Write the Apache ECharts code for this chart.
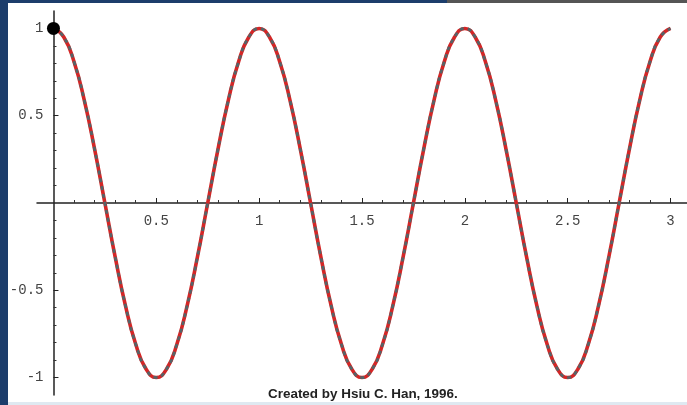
<!DOCTYPE html>
<html>
<head>
<meta charset="utf-8">
<script src="https://cdn.jsdelivr.net/npm/echarts@6/dist/echarts.min.js"></script>
<style>
html,body{margin:0;padding:0;background:#fff;}
#c{width:687px;height:405px;}
</style>
</head>
<body>
<div id="c"></div>
<script>
// Sample positions along t and the read-off curve values
var tValues = [
  0.00,0.05,0.10,0.15,0.20,0.25,0.30,0.35,0.40,0.45,
  0.50,0.55,0.60,0.65,0.70,0.75,0.80,0.85,0.90,0.95,
  1.00,1.05,1.10,1.15,1.20,1.25,1.30,1.35,1.40,1.45,
  1.50,1.55,1.60,1.65,1.70,1.75,1.80,1.85,1.90,1.95,
  2.00,2.05,2.10,2.15,2.20,2.25,2.30,2.35,2.40,2.45,
  2.50,2.55,2.60,2.65,2.70,2.75,2.80,2.85,2.90,2.95,
  3.00
];
var yValues = [
  1,0.951,0.809,0.588,0.309,0,-0.309,-0.588,-0.809,-0.951,
  -1,-0.951,-0.809,-0.588,-0.309,0,0.309,0.588,0.809,0.951,
  1,0.951,0.809,0.588,0.309,0,-0.309,-0.588,-0.809,-0.951,
  -1,-0.951,-0.809,-0.588,-0.309,0,0.309,0.588,0.809,0.951,
  1,0.951,0.809,0.588,0.309,0,-0.309,-0.588,-0.809,-0.951,
  -1,-0.951,-0.809,-0.588,-0.309,0,0.309,0.588,0.809,0.951,
  1
];
var startPoint = [0, 1];
var xTickLabels = [0.5, 1, 1.5, 2, 2.5, 3];
var yTickLabels = [-1, -0.5, 0.5, 1];
var xMinorTicks = [0.1,0.2,0.3,0.4,0.6,0.7,0.8,0.9,1.1,1.2,1.3,1.4,1.6,1.7,1.8,1.9,2.1,2.2,2.3,2.4,2.6,2.7,2.8,2.9];
var yMinorTicks = [-0.9,-0.8,-0.7,-0.6,-0.4,-0.3,-0.2,-0.1,0.1,0.2,0.3,0.4,0.6,0.7,0.8,0.9];
var creditText = 'Created by Hsiu C. Han, 1996.';

var curve = tValues.map(function(t, i){ return [t, yValues[i]]; });
var chart = echarts.init(document.getElementById('c'), null, {renderer:'canvas'});

var GL = 37, GT = 11, GW = 650, GH = 384;
var XMIN = -0.08, XMAX = 3.08, YMIN = -1.1, YMAX = 1.1;
// offsets that bring the axes onto the zero lines
var xOff = -(GH * (0 - YMIN) / (YMAX - YMIN));
var yOff = -(GW * (0 - XMIN) / (XMAX - XMIN));

var labelStyle = {fontFamily:'Liberation Mono', fontSize:14, color:'#444'};
var lineCol = '#222';

chart.setOption({
  animation:false,
  backgroundColor:'#fff',
  grid:{left:GL, top:GT, width:GW, height:GH, containLabel:false, outerBoundsMode:'none'},
  xAxis:[
    {type:'value', min:XMIN, max:XMAX, position:'bottom', offset:xOff,
     axisLine:{show:true, onZero:false, lineStyle:{color:lineCol, width:1.5}},
     axisTick:{show:true, inside:true, length:5, customValues:xTickLabels, lineStyle:{color:lineCol}},
     axisLabel:Object.assign({show:true, margin:11, customValues:xTickLabels,
       formatter:function(v){return String(v);}}, labelStyle),
     splitLine:{show:false}},
    {type:'value', min:XMIN, max:XMAX, position:'bottom', offset:xOff,
     axisLine:{show:false, onZero:false},
     axisTick:{show:true, inside:true, length:3, customValues:xMinorTicks, lineStyle:{color:'#333'}},
     axisLabel:{show:false},
     splitLine:{show:false}}
  ],
  yAxis:[
    {type:'value', min:YMIN, max:YMAX, position:'left', offset:yOff,
     axisLine:{show:true, onZero:false, lineStyle:{color:lineCol, width:1.5}},
     axisTick:{show:true, inside:true, length:5, customValues:yTickLabels, lineStyle:{color:lineCol}},
     axisLabel:Object.assign({show:true, margin:10, customValues:yTickLabels,
       formatter:function(v){return String(v);}}, labelStyle),
     splitLine:{show:false}},
    {type:'value', min:YMIN, max:YMAX, position:'left', offset:yOff,
     axisLine:{show:false, onZero:false},
     axisTick:{show:true, inside:true, length:3, customValues:yMinorTicks, lineStyle:{color:'#333'}},
     axisLabel:{show:false},
     splitLine:{show:false}}
  ],
  series:[
    {type:'line', xAxisIndex:0, yAxisIndex:0, data:curve, smooth:true, showSymbol:false,
     lineStyle:{color:'#d42626', width:3.6}, z:3},
    {type:'line', xAxisIndex:0, yAxisIndex:0, data:curve, smooth:true, showSymbol:false,
     lineStyle:{color:'#556468', width:2.8, type:[4,4]}, z:4},
    {type:'scatter', xAxisIndex:0, yAxisIndex:0, data:[startPoint], symbolSize:13,
     itemStyle:{color:'#000', opacity:1}, z:5}
  ],
  graphic:[
    {type:'rect', left:0, top:0, shape:{width:8, height:405}, style:{fill:'#1c3d6b'}, z:10},
    {type:'rect', left:0, top:0, shape:{width:447, height:3}, style:{fill:'#1c3d6b'}, z:10},
    {type:'rect', left:447, top:0, shape:{width:240, height:3}, style:{fill:'#555'}, z:10},
    {type:'rect', left:8, top:402, shape:{width:679, height:3}, style:{fill:'#dfe9f1'}, z:10},
    {type:'text', x:268, y:389, scaleX:1.12, style:{text:creditText, font:'bold 12px "Liberation Sans"', fill:'#222'}, z:10}
  ]
});
</script>
</body>
</html>
